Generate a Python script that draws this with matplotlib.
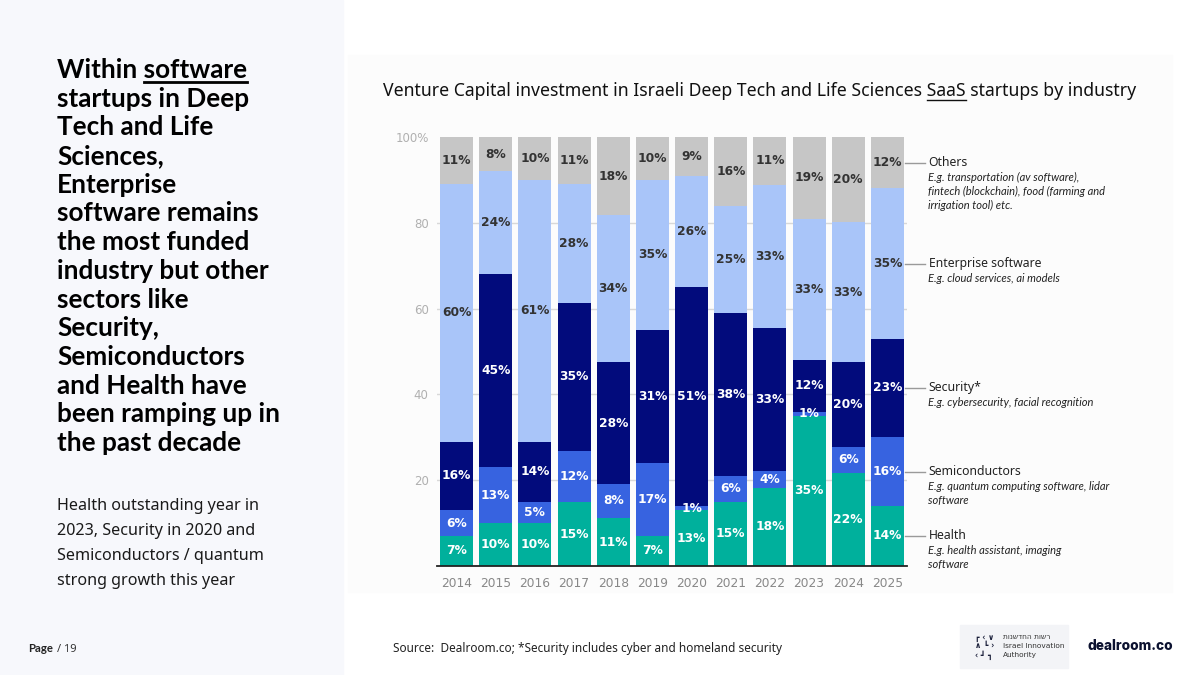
import numpy as np
import matplotlib.pyplot as plt
from matplotlib.patches import Rectangle

# data (percent of VC investment per year)
years = ["2014", "2015", "2016", "2017", "2018", "2019",
         "2020", "2021", "2022", "2023", "2024", "2025"]
health = [7, 10, 10, 15, 11, 7, 13, 15, 18, 35, 22, 14]
semiconductors = [6, 13, 5, 12, 8, 17, 1, 6, 4, 1, 6, 16]
security = [16, 45, 14, 35, 28, 31, 51, 38, 33, 12, 20, 23]
enterprise = [60, 24, 61, 28, 34, 35, 26, 25, 33, 33, 33, 35]
others = [11, 8, 10, 11, 18, 10, 9, 16, 11, 19, 20, 12]

industries = ["Health", "Semiconductors", "Security*",
              "Enterprise software", "Others"]
examples = ["E.g. health assistant, imaging\nsoftware",
            "E.g. quantum computing software, lidar\nsoftware",
            "E.g. cybersecurity, facial recognition",
            "E.g. cloud services, ai models",
            "E.g. transportation (av software),\nfintech (blockchain), food (farming and\nirrigation tool) etc."]

colors = ["#00b09c", "#3763e0", "#020b7c", "#a9c5f9", "#c6c6c6"]
label_colors = ["white", "white", "white", "#333333", "#333333"]

W, H = 1200, 675


def fx(x):
    return x / W


def fy(y):
    return 1 - y / H


fig = plt.figure(figsize=(12, 6.75), dpi=100)
fig.patch.set_facecolor("white")
fig.add_artist(Rectangle((0, 0), fx(343), 1, transform=fig.transFigure,
                         color="#f7f8fc", zorder=0))
fig.add_artist(Rectangle((fx(348), fy(592)), fx(1172) - fx(348), fy(55) - fy(592),
                         transform=fig.transFigure, color="#fcfcfc", zorder=0))
renderer = fig.canvas.get_renderer()


def text_width(s, **kw):
    t = fig.text(0, 0, s, **kw)
    w = t.get_window_extent(renderer).width
    t.remove()
    return w


# ---- left panel ----
head_kw = dict(fontsize=18.8, fontweight="bold", family="Lato", color="black")
head_lines = ["Within software", "startups in Deep", "Tech and Life", "Sciences,",
              "Enterprise", "software remains", "the most funded",
              "industry but other", "sectors like", "Security,", "Semiconductors",
              "and Health have", "been ramping up in", "the past decade"]
for i, line in enumerate(head_lines):
    fig.text(fx(57), fy(78 + 28.7 * i), line, va="baseline", **head_kw)
w_all = text_width("Within software", **head_kw)
w_word = text_width("software", **head_kw)
fig.add_artist(plt.Line2D([fx(57) + (w_all - w_word) / W, fx(57) + w_all / W],
                          [fy(81.5), fy(81.5)], transform=fig.transFigure,
                          color="black", lw=2))

body_lines = ["Health outstanding year in", "2023, Security in 2020 and",
              "Semiconductors / quantum", "strong growth this year"]
for i, line in enumerate(body_lines):
    fig.text(fx(57), fy(510 + 25 * i), line, va="baseline", fontsize=11.6,
             family="Noto Sans", color="#1a1a1a")

fig.text(fx(28), fy(652), "Page", va="baseline", fontsize=8.2,
         fontweight="bold", family="Lato", color="#222222")
fig.text(fx(28) + (text_width("Page", fontsize=8.2, fontweight="bold",
                              family="Lato") + 4) / W,
         fy(652), "/ 19", va="baseline", fontsize=8, family="Noto Sans",
         color="#333333")

# ---- chart title ----
title = "Venture Capital investment in Israeli Deep Tech and Life Sciences SaaS startups by industry"
title_kw = dict(fontsize=12.7, family="Noto Sans", color="#111111")
fig.text(fx(383), fy(96), title, va="baseline", **title_kw)
w1 = text_width(title.split(" startups")[0], **title_kw)
w2 = text_width("SaaS", **title_kw)
fig.add_artist(plt.Line2D([fx(383) + (w1 - w2) / W, fx(383) + w1 / W],
                          [fy(99.5), fy(99.5)], transform=fig.transFigure,
                          color="#111111", lw=1))

# ---- stacked bars ----
ax = fig.add_axes([fx(437), fy(566), (907 - 437) / W, (566 - 137) / H])
ax.set_facecolor("none")
values = np.array([health, semiconductors, security, enterprise, others], float)
shares = values / values.sum(axis=0) * 100
x = np.arange(len(years))
bottom = np.zeros(len(years))
for i in range(len(industries)):
    ax.bar(x, shares[i], 0.845, bottom=bottom, color=colors[i], zorder=2)
    for j in range(len(years)):
        ax.text(x[j], bottom[j] + shares[i][j] / 2, f"{int(values[i][j])}%",
                ha="center", va="center", fontsize=8.8, fontweight="bold",
                color=label_colors[i], zorder=3)
    bottom = bottom + shares[i]

ax.set_xlim(-0.5, len(years) - 0.5)
ax.set_ylim(0, 100)
ax.set_yticks([20, 40, 60, 80, 100], ["20", "40", "60", "80", "100%"])
ax.set_xticks(x, years)
ax.yaxis.grid(True, color="#d8d8d8", lw=1)
ax.get_ygridlines()[-1].set_visible(False)
ax.set_axisbelow(True)
ax.tick_params(axis="y", length=0, pad=6, labelsize=8.5, labelcolor="#b0b0b0")
ax.tick_params(axis="x", length=0, pad=8, labelsize=8.8, labelcolor="#888888")
for s in ["left", "right", "top"]:
    ax.spines[s].set_visible(False)
ax.spines["bottom"].set_color("#222222")
ax.spines["bottom"].set_linewidth(1.3)

# ---- labels on the right, lined up with the 2025 segments ----
trans = ax.get_yaxis_transform()
last = shares[:, -1]
tops = np.cumsum(last)
for i in range(len(industries)):
    yc = tops[i] - last[i] / 2
    ax.plot([0.996, 1.038], [yc, yc], transform=trans, clip_on=False,
            color="#9a9a9a", lw=1)
    ax.text(1.046, yc, industries[i], transform=trans, va="center",
            fontsize=8.8, family="Noto Sans", color="#222222")
    ax.annotate(examples[i], xy=(1.045, yc), xycoords=trans, xytext=(0, -6.5),
                textcoords="offset points", va="top", fontsize=8.0,
                family="Lato", style="italic", color="#222222",
                linespacing=1.35)

# ---- footer ----
fig.text(fx(393), fy(652), "Source:  Dealroom.co; *Security includes cyber and homeland security",
         va="baseline", fontsize=8.5, family="Noto Sans", color="#222222")

fig.add_artist(Rectangle((fx(960), fy(668)), fx(1068) - fx(960), fy(625) - fy(668),
                         transform=fig.transFigure, color="#f3f4f7", zorder=0))
for i, row in enumerate(["\u250f \u2039 \u2228", "\u2227 \u2517 \u203a", "\u2039 \u251b \u2513"]):
    fig.text(fx(975), fy(637 + 9 * i), row, va="center", fontsize=5.5,
             fontweight="bold", family="DejaVu Sans", color="#1a1f3a")
for i, row in enumerate(["\u05ea\u05d5\u05e0\u05e9\u05d3\u05d7\u05d4 \u05ea\u05d5\u05e9\u05e8",
                         "Israel Innovation", "Authority"]):
    fig.text(fx(1003), fy(637 + 9 * i), row, va="center", fontsize=5.3,
             family="DejaVu Sans", color="#333333")
fig.text(fx(1088), fy(646), "dealroom.co", va="center", fontsize=9.8,
         fontweight="heavy", family="Inter", color="#0c1230")

fig.savefig("out.png", dpi=100)
